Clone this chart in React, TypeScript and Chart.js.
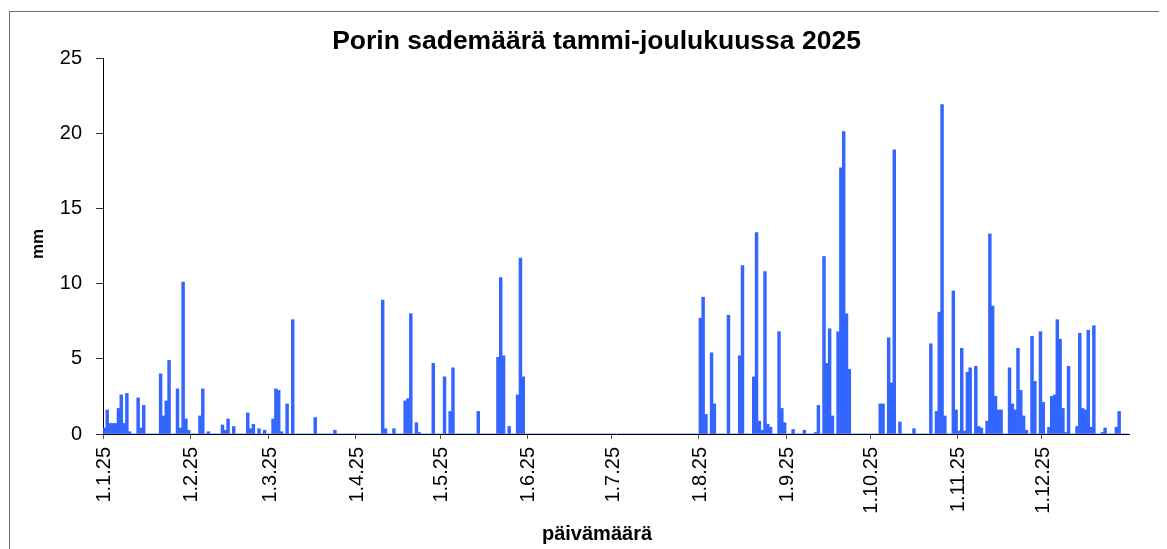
import { useEffect, useRef } from 'react';
import { Chart, registerables } from 'chart.js';

Chart.register(...registerables);

const chartTitle = 'Porin sademäärä tammi-joulukuussa 2025';
const xTitle = 'päivämäärä';
const yTitle = 'mm';

const tickLabels = ['1.1.25', '1.2.25', '1.3.25', '1.4.25', '1.5.25', '1.6.25', '1.7.25', '1.8.25', '1.9.25', '1.10.25', '1.11.25', '1.12.25'];

const jan = [0.4, 1.6, 0.7, 0.7, 0.7, 1.7, 2.6, 0.7, 2.7, 0.15, 0, 0, 2.4, 0.4, 1.9, 0, 0, 0, 0, 0, 4.0, 1.2, 2.2, 4.9, 0, 0, 3.0, 0.4, 10.1, 1.0, 0.25];
const feb = [0, 0, 0, 1.2, 3.0, 0, 0.15, 0, 0, 0, 0, 0.6, 0.25, 1.0, 0, 0.5, 0, 0, 0, 0, 1.4, 0.35, 0.65, 0, 0.35, 0, 0.25, 0];
const mar = [0, 1.0, 3.0, 2.9, 0.15, 0, 2.0, 0, 7.6, 0, 0, 0, 0, 0, 0, 0, 1.1, 0, 0, 0, 0, 0, 0, 0.25, 0, 0, 0, 0, 0, 0, 0];
const apr = [0, 0, 0, 0, 0, 0, 0, 0, 0, 8.9, 0.35, 0, 0, 0.35, 0, 0, 0, 2.2, 2.35, 8.0, 0, 0.75, 0.1, 0, 0, 0, 0, 4.7, 0, 0];
const may = [0, 3.8, 0, 1.5, 4.4, 0, 0, 0, 0, 0, 0, 0, 0, 1.5, 0, 0, 0, 0, 0, 0, 5.1, 10.4, 5.2, 0, 0.5, 0, 0, 2.6, 11.7, 3.8, 0];
const jun = [0, 0, 0, 0, 0, 0, 0, 0, 0, 0, 0, 0, 0, 0, 0, 0, 0, 0, 0, 0, 0, 0, 0, 0, 0, 0, 0, 0, 0, 0];
const jul = [0, 0, 0, 0, 0, 0, 0, 0, 0, 0, 0, 0, 0, 0, 0, 0, 0, 0, 0, 0, 0, 0, 0, 0, 0, 0, 0, 0, 0, 0, 0];
const aug = [7.7, 9.1, 1.3, 0, 5.4, 2.0, 0, 0, 0, 0, 7.9, 0, 0, 0, 5.2, 11.2, 0, 0, 0, 3.8, 13.4, 0.85, 0.25, 10.8, 0.65, 0.45, 0, 0, 6.8, 1.7, 0.75];
const sep = [0, 0, 0.3, 0, 0, 0, 0.25, 0, 0, 0, 0.1, 1.9, 0, 11.8, 4.7, 7.0, 1.2, 0, 6.8, 17.7, 20.1, 8.0, 4.3, 0, 0, 0, 0, 0, 0, 0];
const oct = [0, 0, 0, 2.0, 2.0, 0, 6.4, 3.4, 18.9, 0, 0.8, 0, 0, 0, 0, 0.35, 0, 0, 0, 0, 0, 6.0, 0, 1.5, 8.1, 21.9, 1.2, 0, 0, 9.5, 1.6];
const nov = [0.2, 5.7, 0.2, 4.1, 4.4, 0, 4.5, 0.5, 0.4, 0, 0.85, 13.3, 8.5, 2.5, 1.6, 1.6, 0, 0, 4.4, 2.0, 1.6, 5.7, 2.9, 1.2, 0.25, 0, 6.5, 3.5, 0, 6.8];
const dec = [2.1, 0, 0.45, 2.5, 2.6, 7.6, 6.3, 1.7, 0.1, 4.5, 0, 0, 0.5, 6.7, 1.7, 1.6, 6.9, 0.45, 7.2, 0, 0, 0.1, 0.4, 0, 0, 0, 0.45, 1.5, 0, 0, 0];

const months = [jan, feb, mar, apr, may, jun, jul, aug, sep, oct, nov, dec];

const categories: string[] = [];
const monthStart: Record<number, string> = {};
months.forEach((m, mi) => {
  m.forEach((_, di) => {
    if (di === 0) monthStart[categories.length] = tickLabels[mi];
    categories.push(`${di + 1}.${mi + 1}.25`);
  });
});
const rain = months.flat();

const W = 1159;
const H = 541;
const FONT = "'Liberation Sans', Arial, sans-serif";

const decorPlugin = {
  id: 'decor',
  beforeDraw(chart: any) {
    const ctx = chart.ctx;
    ctx.save();
    ctx.fillStyle = '#ffffff';
    ctx.fillRect(0, 0, chart.width, chart.height);
    ctx.strokeStyle = '#6e6e6e';
    ctx.lineWidth = 1;
    ctx.strokeRect(1.5, 3.5, 1155, 700);
    ctx.restore();
  },
  afterDraw(chart: any) {
    const ctx = chart.ctx;
    ctx.save();
    ctx.fillStyle = '#000';
    ctx.textAlign = 'center';
    ctx.textBaseline = 'middle';
    ctx.font = `bold 26.5px ${FONT}`;
    ctx.fillText(chartTitle, 588.5, 34);
    ctx.font = `bold 20px ${FONT}`;
    ctx.fillText(xTitle, 589, 526);
    ctx.translate(30, 236);
    ctx.rotate(-Math.PI / 2);
    ctx.font = `bold 17px ${FONT}`;
    ctx.fillText(yTitle, 0, 0);
    ctx.restore();
  },
};

export default function App() {
  const ref = useRef<HTMLCanvasElement | null>(null);
  useEffect(() => {
    document.body.style.overflow = 'hidden';
    if (!ref.current) return;
    const chart = new Chart(ref.current, {
      type: 'bar',
      data: {
        labels: categories,
        datasets: [
          {
            data: rain,
            backgroundColor: '#3366ff',
            borderWidth: 0,
            barPercentage: 1,
            categoryPercentage: 1,
          },
        ],
      },
      options: {
        responsive: false,
        animation: false,
        devicePixelRatio: 1,
        layout: { padding: { left: 0, right: W - 1121, top: 50, bottom: 0 } },
        plugins: { legend: { display: false }, title: { display: false }, tooltip: { enabled: false } },
        scales: {
          x: {
            type: 'category',
            offset: true,
            grid: {
              display: true,
              offset: true,
              drawOnChartArea: false,
              drawTicks: true,
              tickLength: 5,
              tickColor: (c: any) => (monthStart[c.index] !== undefined ? '#555' : 'rgba(0,0,0,0)'),
            },
            border: { display: true, color: '#000', width: 1 },
            ticks: {
              autoSkip: false,
              maxRotation: 90,
              minRotation: 90,
              padding: 8,
              color: '#000',
              font: { family: FONT, size: 20 },
              callback: (_v: any, i: number) => (monthStart[i] !== undefined ? monthStart[i] : ''),
            },
            afterFit: (s: any) => {
              s.height = H - 426;
            },
          },
          y: {
            min: 0,
            max: 25,
            grid: { display: true, drawOnChartArea: false, drawTicks: true, tickLength: 7, tickColor: '#333' },
            border: { display: true, color: '#000', width: 1 },
            ticks: {
              stepSize: 5,
              padding: 14,
              color: '#000',
              font: { family: FONT, size: 20 },
            },
            afterFit: (s: any) => {
              s.width = 95;
            },
          },
        },
      },
      plugins: [decorPlugin],
    });
    return () => chart.destroy();
  }, []);
  return (
    <div style={{ width: W, height: H }}>
      <canvas ref={ref} width={W} height={H} style={{ width: W, height: H, display: 'block' }} />
    </div>
  );
}
